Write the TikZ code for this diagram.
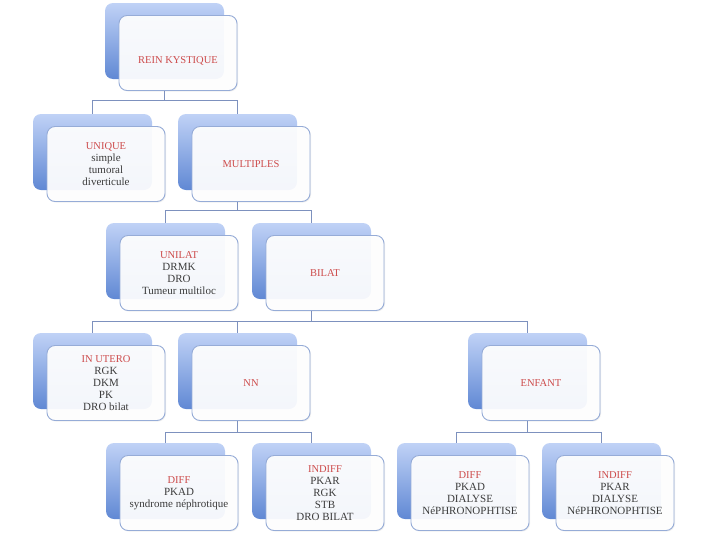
\documentclass[tikz,border=0pt]{standalone}
\usepackage{fontspec}
\setmainfont{Liberation Serif}
\usetikzlibrary{backgrounds,shadows}
\definecolor{redt}{RGB}{205,75,75}
\definecolor{grayt}{RGB}{60,60,60}
\definecolor{btop}{RGB}{192,210,246}
\definecolor{bbot}{RGB}{96,136,212}
\definecolor{fborder}{RGB}{150,172,215}
\definecolor{conncol}{RGB}{125,145,190}
\tikzset{
  backbox/.style={rounded corners=8pt, minimum width=119pt, minimum height=76pt,
    top color=btop, bottom color=bbot, draw=none, inner sep=0pt},
  frontbox/.style={rounded corners=8pt, minimum width=118pt, minimum height=75pt,
    draw=fborder, line width=0.9pt, fill=white, fill opacity=0.93, text opacity=1,
    align=center, font=\fontsize{11}{12}\selectfont, text=grayt, inner sep=0pt,
    drop shadow={opacity=0.12, shadow xshift=1pt, shadow yshift=-1pt}},
  lbl/.style={align=center, font=\fontsize{11}{12}\selectfont, text=grayt, inner sep=0pt},
  conn/.style={draw=conncol, line width=0.9pt},
}
\newcommand\redhd[1]{\textcolor{redt}{\fontsize{10.5}{12}\selectfont #1}}
\begin{document}
\begin{tikzpicture}[x=1pt,y=-1pt]
\useasboundingbox (0,0) rectangle (706,533);
% level 1
\node[backbox] (rk) at (164.5,41) {};
\node[frontbox] (rkf) at ([shift={(13.5,12)}]rk.center) {};
\node[lbl] (rkt) at ([shift={(0,8)}]rkf.center) {\redhd{REIN KYSTIQUE}};
% level 2
\node[backbox] (uq) at (92.5,152) {};
\node[frontbox] (uqf) at ([shift={(13.5,12)}]uq.center) {\redhd{UNIQUE}\\simple\\tumoral\\diverticule};
\node[backbox] (mu) at (237.5,152) {};
\node[frontbox] (muf) at ([shift={(13.5,12)}]mu.center) {\redhd{MULTIPLES}};
% level 3
\node[backbox] (ul) at (165.5,261) {};
\node[frontbox] (ulf) at ([shift={(13.5,12)}]ul.center) {\redhd{UNILAT}\\DRMK\\DRO\\Tumeur multiloc};
\node[backbox] (bi) at (311.5,261) {};
\node[frontbox] (bif) at ([shift={(13.5,12)}]bi.center) {\redhd{BILAT}};
% level 4
\node[backbox] (iu) at (92.5,371) {};
\node[frontbox] (iuf) at ([shift={(13.5,12)}]iu.center) {\redhd{IN UTERO}\\RGK\\DKM\\PK\\DRO bilat};
\node[backbox] (nn) at (237.5,371) {};
\node[frontbox] (nnf) at ([shift={(13.5,12)}]nn.center) {\redhd{NN}};
\node[backbox] (en) at (527.5,371) {};
\node[frontbox] (enf) at ([shift={(13.5,12)}]en.center) {\redhd{ENFANT}};
% level 5
\node[backbox] (da) at (165.5,481) {};
\node[frontbox] (daf) at ([shift={(13.5,12)}]da.center) {\redhd{DIFF}\\PKAD\\syndrome néphrotique};
\node[backbox] (ia) at (311.5,481) {};
\node[frontbox] (iaf) at ([shift={(13.5,12)}]ia.center) {\redhd{INDIFF}\\PKAR\\RGK\\STB\\DRO BILAT};
\node[backbox] (db) at (456.5,481) {};
\node[frontbox] (dbf) at ([shift={(13.5,12)}]db.center) {\redhd{DIFF}\\PKAD\\DIALYSE\\NéPHRONOPHTISE};
\node[backbox] (ib) at (601.5,481) {};
\node[frontbox] (ibf) at ([shift={(13.5,12)}]ib.center) {\redhd{INDIFF}\\PKAR\\DIALYSE\\NéPHRONOPHTISE};
% connectors and background
\begin{pgfonlayer}{background}
\fill[white] (0,0) rectangle (706,533);
\draw[conn] (rk.south |- rkf.south) -- (rk.south |- 0,100) -| (uq.north);
\draw[conn] (rk.south |- 0,100) -| (mu.north);
\draw[conn] (mu.south |- muf.south) -- (mu.south |- 0,210) -| (ul.north);
\draw[conn] (mu.south |- 0,210) -| (bi.north);
\draw[conn] (bi.south |- bif.south) -- (bi.south |- 0,321) -| (iu.north);
\draw[conn] (bi.south |- 0,321) -| (nn.north);
\draw[conn] (bi.south |- 0,321) -| (en.north);
\draw[conn] (nn.south |- nnf.south) -- (nn.south |- 0,432) -| (da.north);
\draw[conn] (nn.south |- 0,432) -| (ia.north);
\draw[conn] (en.south |- enf.south) -- (en.south |- 0,432) -| (db.north);
\draw[conn] (en.south |- 0,432) -| (ib.north);
\end{pgfonlayer}
\end{tikzpicture}
\end{document}
